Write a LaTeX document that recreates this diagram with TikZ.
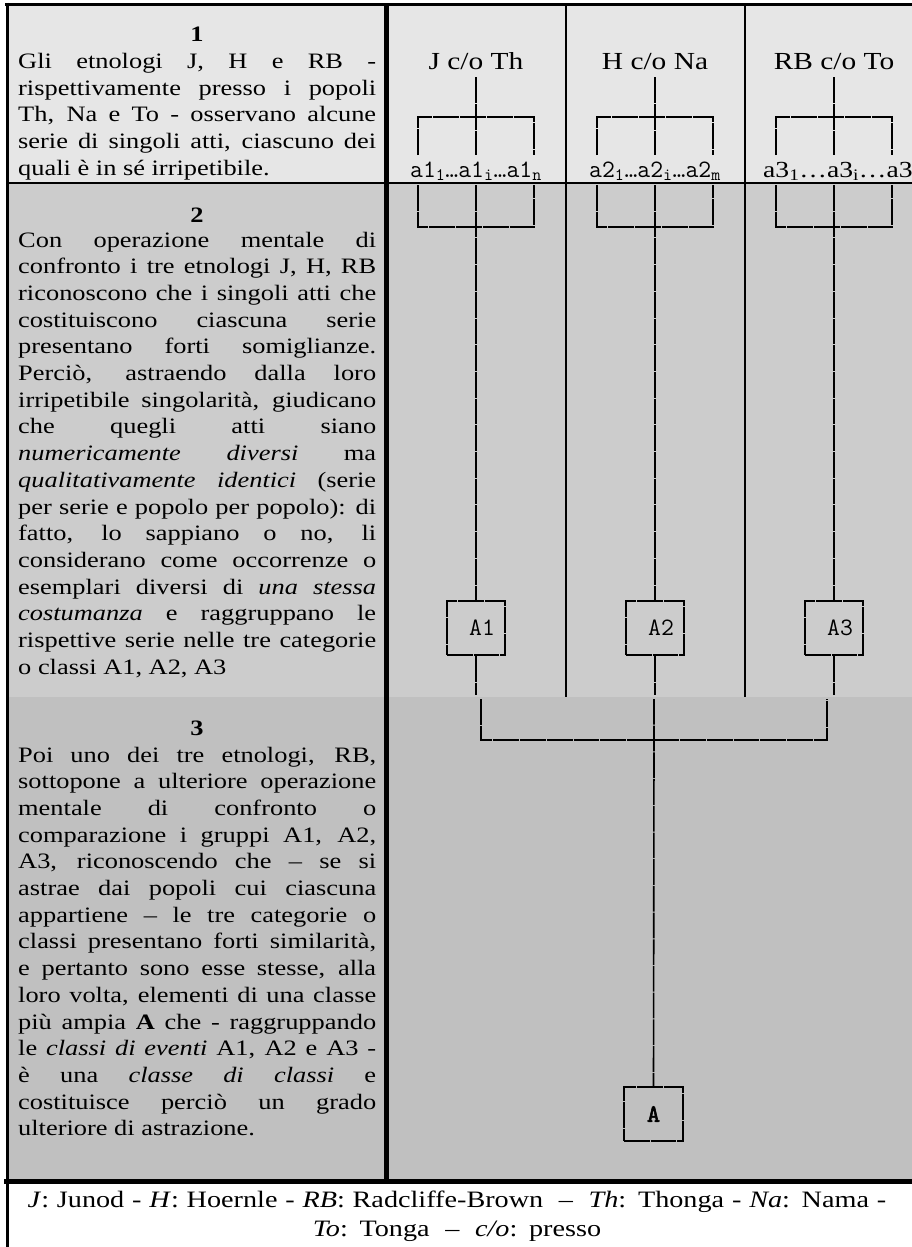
\documentclass[tikz,border=0pt]{standalone}
\usepackage{fontspec}
\setmainfont{Liberation Serif}[FakeStretch=1.2]
\newfontfamily\monobold{lmmono10-regular.otf}[FakeBold=2.5]
\usetikzlibrary{positioning, calc}
\definecolor{rowone}{RGB}{230,230,230}
\definecolor{rowtwo}{RGB}{204,204,204}
\definecolor{rowthree}{RGB}{192,192,192}
\tikzset{
  tree/.style={line width=1.6pt, dash pattern=on 25.7pt off 1pt},
  steptitle/.style={anchor=base, inner sep=0pt, font=\fontsize{22}{26.7}\selectfont\bfseries},
  steptext/.style={anchor=base west, inner sep=0pt, text width=358pt, align=justify,
    font=\fontsize{22}{26.7}\selectfont, execute at begin node={\hyphenpenalty=10000}},
  who/.style={anchor=base, inner xsep=0pt, inner ysep=7pt, font=\fontsize{24.5}{29}\selectfont},
  series/.style={anchor=base, inner sep=0pt, font=\ttfamily\fontsize{25}{28}\selectfont},
  classbox/.style={draw, tree, minimum width=58pt, minimum height=54pt, inner sep=0pt,
    font=\ttfamily\fontsize{25}{28}\selectfont},
}

\begin{document}
\begin{tikzpicture}[x=1pt, y=-1pt]
  \useasboundingbox (0,0) rectangle (912,1247);
  \clip (0,0) rectangle (912,1247);
  \fill[white] (0,0) rectangle (912,1247);
  \fill[rowone] (7,4) rectangle (930,183);
  \fill[rowtwo] (7,183) rectangle (930,697);
  \fill[rowthree] (7,697) rectangle (930,1181);

  % table rules
  \draw[line width=2.5pt] (5,4.5) -- (930,4.5);
  \draw[line width=1.5pt] (7,183) -- (930,183);
  \draw[line width=5pt] (4,1181.5) -- (930,1181.5);
  \draw[line width=3pt] (7.5,3) -- (7.5,1247);
  \draw[line width=5pt] (386.5,4) -- (386.5,1181);
  \foreach \x in {566,745}
    \draw[line width=2pt] (\x,4) -- (\x,697);

  % left column
  \node[steptitle] (num1) at (197,42) {1};
  \node[steptext] (txt1) at (18,68.5) {Gli etnologi J, H e RB -\linebreak
    rispettivamente presso i popoli\linebreak
    Th, Na e To - osservano alcune\linebreak
    serie di singoli atti, ciascuno dei\linebreak
    quali è in sé irripetibile.};

  \node[steptitle] (num2) at (197,222) {2};
  \node[steptext] (txt2) at (18,247) {Con operazione mentale di\linebreak
    confronto i tre etnologi J, H, RB\linebreak
    riconoscono che i singoli atti che\linebreak
    costituiscono ciascuna serie\linebreak
    presentano forti somiglianze.\linebreak
    Perciò, astraendo dalla loro\linebreak
    irripetibile singolarità, giudicano\linebreak
    che quegli atti siano\linebreak
    \textit{numericamente diversi} ma\linebreak
    \textit{qualitativamente identici} (serie\linebreak
    per serie e popolo per popolo): di\linebreak
    fatto, lo sappiano o no, li\linebreak
    considerano come occorrenze o\linebreak
    esemplari diversi di \textit{una stessa}\linebreak
    \textit{costumanza} e raggruppano le\linebreak
    rispettive serie nelle tre categorie\linebreak
    o classi A1, A2, A3};

  \node[steptitle] (num3) at (197,735) {3};
  \node[steptext] (txt3) at (18,762) {Poi uno dei tre etnologi, RB,\linebreak
    sottopone a ulteriore operazione\linebreak
    mentale di confronto o\linebreak
    comparazione i gruppi A1, A2,\linebreak
    A3, riconoscendo che – se si\linebreak
    astrae dai popoli cui ciascuna\linebreak
    appartiene – le tre categorie o\linebreak
    classi presentano forti similarità,\linebreak
    e pertanto sono esse stesse, alla\linebreak
    loro volta, elementi di una classe\linebreak
    più ampia \textbf{A} che - raggruppando\linebreak
    le \textit{classi di eventi} A1, A2 e A3 -\linebreak
    è una \textit{classe di classi} e\linebreak
    costituisce perciò un grado\linebreak
    ulteriore di astrazione.};

  \node[anchor=base, inner sep=0pt, text width=900pt, align=center,
    font=\fontsize{23.5}{29}\selectfont] (key) at (457,1207)
    {\textit{J}: Junod - \textit{H}: Hoernle - \textit{RB}: Radcliffe-Brown\ \ –\ \ \textit{Th}: Thonga - \textit{Na}: Nama -\\
     \textit{To}: Tonga\ \ –\ \ \textit{c/o}: presso};

  % observers and series
  \node[who] (who1) at (476,70) {J c/o Th};
  \node[who] (who2) at (655,70) {H c/o Na};
  \node[who] (who3) at (834,70) {RB c/o To};
  \node[series] (ser1) at (476,177) {a1\textsubscript{1}…a1\textsubscript{i}…a1\textsubscript{n}};
  \node[series] (ser2) at (655,177) {a2\textsubscript{1}…a2\textsubscript{i}…a2\textsubscript{m}};
  \node[series, anchor=base west, font=\fontsize{23}{27}\selectfont] (ser3) at (763,177)
    {a3\textsubscript{1}…a3\textsubscript{i}…a3};
  \node[classbox] (A1) at (476,628) {\hspace*{12pt}A1};
  \node[classbox] (A2) at (655,628) {\hspace*{12pt}A2};
  \node[classbox] (A3) at (834,628) {\hspace*{12pt}A3};
  \node[classbox, minimum width=59pt, font=\monobold\fontsize{25}{28}\selectfont] (A) at (653.5,1114) {A};

  \foreach \i/\cx in {1/476, 2/655, 3/834} {
    \coordinate (top\i) at (\cx,117);
    \coordinate (bot\i) at (\cx,227);
    \draw[tree] (who\i.south) -- (top\i) -- ++(0,38);
    \draw[tree] ($(top\i)+(-58,38)$) |- ($(top\i)+(58,0)$) -- ++(0,38);
    \draw[tree] ($(bot\i)+(-58,-42)$) |- ($(bot\i)+(58,0)$) -- ++(0,-42);
    \draw[tree] ($(bot\i)+(0,-42)$) -- (bot\i) -- (A\i.north);
    \draw[tree] (A\i.south) -- ++(0,39);
  }

  % grouping of the classes
  \coordinate (g1) at (481,699);
  \coordinate (g2) at (654,699);
  \coordinate (g3) at (827,699);
  \coordinate (gj) at (654,740);
  \draw[tree] (g1) |- (g3 |- gj) -- (g3);
  \draw[tree] (g2) -- (gj) -- (A.north);
\end{tikzpicture}
\end{document}
